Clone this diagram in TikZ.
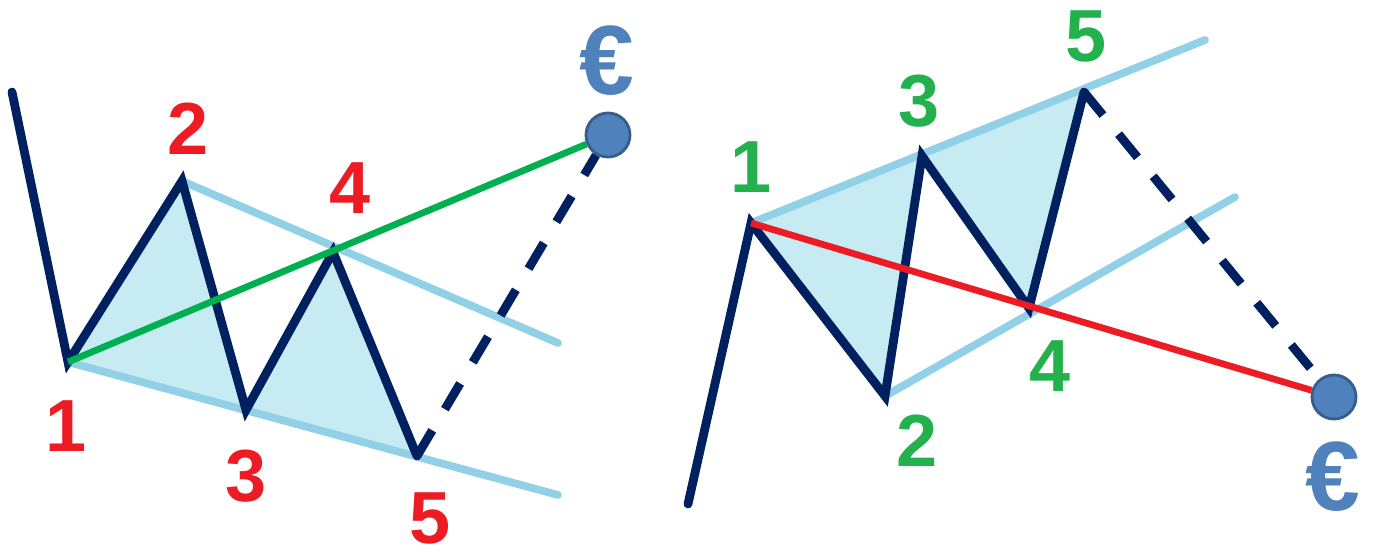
\documentclass[tikz,border=0pt]{standalone}
\usepackage{fontspec}
\newfontfamily\cifrefont{Liberation Sans}
\definecolor{blunotte}{RGB}{0,32,96}
\definecolor{azzurro}{RGB}{146,208,232}
\definecolor{riempi}{RGB}{198,235,242}
\definecolor{bordino}{RGB}{245,235,165}
\definecolor{verde}{RGB}{0,176,80}
\definecolor{verdecifra}{RGB}{34,177,76}
\definecolor{rosso}{RGB}{237,28,36}
\definecolor{bluobiettivo}{RGB}{79,129,189}
\definecolor{bordoobiettivo}{RGB}{56,93,138}
\tikzset{
  onda/.style={draw=blunotte, line width=2.5pt, line join=miter, line cap=round},
  canale/.style={draw=azzurro, line width=2.2pt, line cap=round},
  triangolo/.style={fill=riempi, draw=bordino, line width=0.5pt},
  previsione/.style={draw=blunotte, line width=2.5pt, dash pattern=on 8.5pt off 7pt},
  obiettivo/.style={circle, fill=bluobiettivo, draw=bordoobiettivo, line width=0.8pt, minimum size=0.44cm, inner sep=0pt},
  euro/.style={text=bluobiettivo, font=\cifrefont\bfseries\fontsize{28}{28}\selectfont, inner sep=0pt},
  cifrarossa/.style={text=rosso, font=\cifrefont\bfseries\fontsize{21}{21}\selectfont, inner sep=0pt},
  cifraverde/.style={text=verdecifra, font=\cifrefont\bfseries\fontsize{21}{21}\selectfont, inner sep=0pt}
}
\begin{document}
\begin{tikzpicture}[x=0.01cm, y=-0.01cm]
        \useasboundingbox (0,0) rectangle (1373,551);
        %punti onda rialzista
        \coordinate (a0) at (12,92);
        \coordinate (a1) at (68,362);
        \coordinate (a2) at (182,181);
        \coordinate (a3) at (246,410);
        \coordinate (a4) at (333,252);
        \coordinate (a5) at (417,456);
        \coordinate (aS) at (558,343);
        \coordinate (aI) at (558,495);
        %punti onda ribassista
        \coordinate (b0) at (688,504);
        \coordinate (b1) at (751,223);
        \coordinate (b2) at (885,396);
        \coordinate (b3) at (922,156);
        \coordinate (b4) at (1029,308);
        \coordinate (b5) at (1084,92);
        \coordinate (bS) at (1205,40);
        \coordinate (bI) at (1235,197);
        %obiettivi
        \node[obiettivo] (tA) at (608,135) {};
        \node[obiettivo] (tB) at (1334,397) {};
        \node[euro] (eA) at (607,61) {€};
        \node[euro] (eB) at (1333,477) {€};
        %disegno triangoli
        \draw[triangolo] (a1)--(a2)--(a3)--cycle;
        \draw[triangolo] (a3)--(a4)--(a5)--cycle;
        \draw[triangolo] (b1)--(b3)--(b2)--cycle;
        \draw[triangolo] (b3)--(b5)--(b4)--cycle;
        %disegno canali
        \draw[canale] (a2)--(aS);
        \draw[canale] (a1)--(aI);
        \draw[canale] (b1)--(bS);
        \draw[canale] (b2)--(bI);
        %disegno onde
        \draw[onda] (a0)--(a1)--(a2)--(a3)--(a4)--(a5);
        \draw[onda] (b0)--(b1)--(b2)--(b3)--(b4)--(b5);
        %disegno linee 1-4
        \draw[verde, line width=1.9pt] (a1)--(tA);
        \draw[rosso, line width=1.9pt] (b1)--(tB);
        %disegno previsione
        \draw[previsione] (a5)--(tA);
        \draw[previsione] (b5)--(tB);
        %etichette
        \node[cifrarossa] (la1) at (66,426) {1};
        \node[cifrarossa] (la2) at (188,129) {2};
        \node[cifrarossa] (la3) at (246,476) {3};
        \node[cifrarossa] (la4) at (350,188) {4};
        \node[cifrarossa] (la5) at (430,518) {5};
        \node[cifraverde] (lb1) at (751,167) {1};
        \node[cifraverde] (lb2) at (917,441) {2};
        \node[cifraverde] (lb3) at (919,101) {3};
        \node[cifraverde] (lb4) at (1050,366) {4};
        \node[cifraverde] (lb5) at (1086,36) {5};
    \end{tikzpicture}
\end{document}
